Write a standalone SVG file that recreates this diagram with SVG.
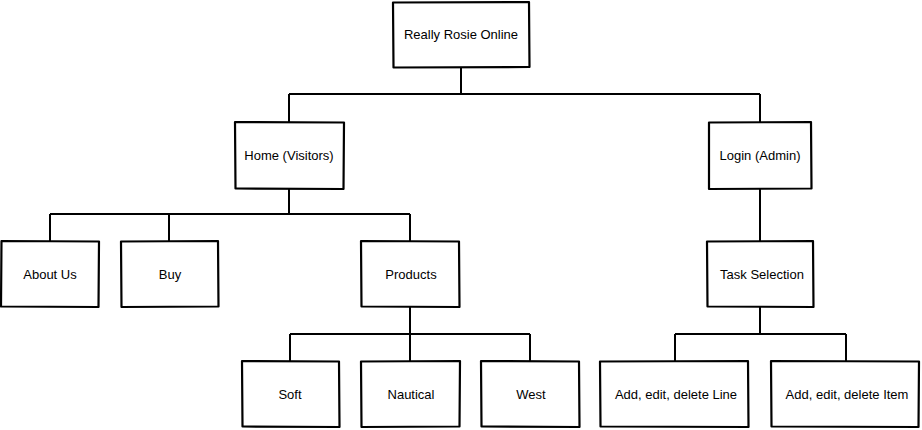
<svg xmlns="http://www.w3.org/2000/svg" width="922" height="430" viewBox="0 0 922 430">
<style>
.box{fill:#fff;stroke:#000;stroke-width:2.2;stroke-linejoin:round}
.lbl{font-family:"Liberation Sans",Arial,sans-serif;font-size:13px;fill:#000;text-anchor:middle;dominant-baseline:central}
.conn{fill:none;stroke:#000;stroke-width:2}
</style>
<rect width="922" height="430" fill="#fff"/>
<g id="connectors">
<path class="conn" d="M461 67V94M289 94H760M289 94V122M760 94V122"/>
<path class="conn" d="M289 189V214M50 214H410M50 214V241M169 214V241M410 214V241"/>
<path class="conn" d="M760 189V241"/>
<path class="conn" d="M410 307V334M290 334H530M290 334V361M410 334V361M530 334V361"/>
<path class="conn" d="M760 307V334M675 334H846M675 334V361M846 334V361"/>
</g>
<g id="root"><path class="box" d="M393 2.5L529 2L529.5 67L393.5 67.5Z"/><text class="lbl" x="461" y="34">Really Rosie Online</text></g>
<g id="home"><path class="box" d="M235 122L344 122.5L343.5 189L235.5 188.5Z"/><text class="lbl" x="289" y="155">Home (Visitors)</text></g>
<g id="login"><path class="box" d="M709 122.5L811 122L811.5 188.5L709 189Z"/><text class="lbl" x="760" y="155">Login (Admin)</text></g>
<g id="about"><path class="box" d="M1.5 241L99 241.5L98.5 307L1 306.5Z"/><text class="lbl" x="50" y="274">About Us</text></g>
<g id="buy"><path class="box" d="M121 241.5L218 241L218.5 306.5L121.5 307Z"/><text class="lbl" x="170" y="274">Buy</text></g>
<g id="products"><path class="box" d="M361 241L459 241.5L459.5 307L361.5 306.5Z"/><text class="lbl" x="411" y="274">Products</text></g>
<g id="task"><path class="box" d="M707 241.5L813 241L813.5 307L707.5 306.5Z"/><text class="lbl" x="762" y="274">Task Selection</text></g>
<g id="soft"><path class="box" d="M242 361L339 361.5L339.5 427L242.5 426.5Z"/><text class="lbl" x="290" y="394">Soft</text></g>
<g id="nautical"><path class="box" d="M361 361.5L460 361L459.5 426.5L361.5 427Z"/><text class="lbl" x="411" y="394">Nautical</text></g>
<g id="west"><path class="box" d="M481 361L579 361.5L579.5 427L481.5 426.5Z"/><text class="lbl" x="531" y="394">West</text></g>
<g id="addline"><path class="box" d="M600 361.5L748 361L748.5 427L600.5 426.5Z"/><text class="lbl" x="676" y="394">Add, edit, delete Line</text></g>
<g id="additem"><path class="box" d="M771 361L919 361.5L918.5 427L771.5 426.5Z"/><text class="lbl" x="847" y="394">Add, edit, delete Item</text></g>
</svg>
